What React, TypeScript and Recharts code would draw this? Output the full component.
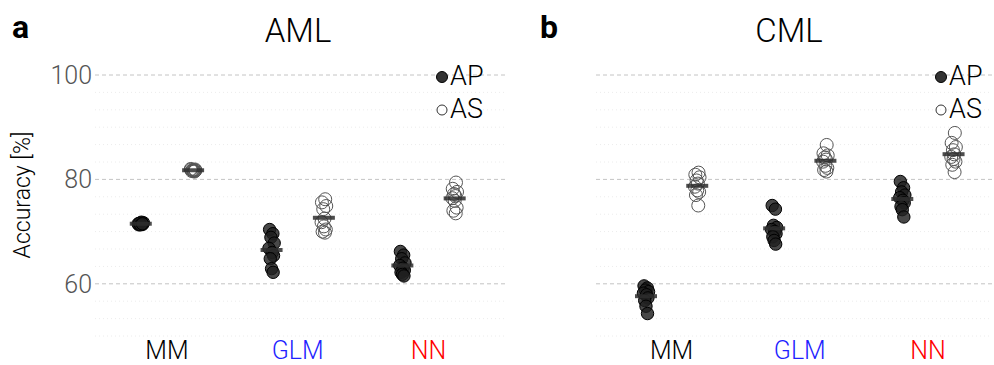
import React from 'react';
import { ScatterChart, Scatter, XAxis, YAxis, ReferenceLine } from 'recharts';

const FONT = 'Roboto, "Liberation Sans", Helvetica, Arial, sans-serif';
const FW = 300;

const categories = ['MM', 'GLM', 'NN'];
const categoryColors = ['#000000', '#1f1fff', '#ff0000'];
const yTicks = [60, 80, 100];
const minorGrid = [50, 53.33, 56.67, 63.33, 66.67, 70, 73.33, 76.67, 83.33, 86.67, 90, 93.33, 96.67];
const groups = ['AP', 'AS'];

// hand-set horizontal jitter (x-axis units)
const jitterA = [-0.015, 0.01, -0.005, 0.02, -0.02, 0.005, 0.015, -0.01, 0.0, 0.012];
const jitterB = [0.01, -0.015, 0.018, -0.005, 0.005, -0.018, 0.0, 0.015, -0.01, 0.008];

// AML panel
const amlMM_AP = [71.3, 71.6, 71.4, 71.7, 71.5, 71.8, 71.4, 71.6, 71.3, 71.5];
const amlMM_AS = [81.5, 81.9, 81.7, 81.8, 81.6, 82.0, 81.7, 81.9, 81.6, 81.8];
const amlGLM_AP = [70.4, 69.6, 68.9, 67.8, 66.8, 66.0, 65.4, 64.8, 62.9, 62.2];
const amlGLM_AS = [76.2, 75.6, 74.9, 74.3, 72.5, 71.8, 71.0, 70.4, 70.0, 69.8];
const amlNN_AP = [66.2, 65.5, 64.8, 64.0, 63.5, 63.0, 62.6, 62.2, 61.8, 61.5];
const amlNN_AS = [79.4, 78.2, 77.6, 77.2, 76.8, 76.4, 75.9, 74.6, 74.0, 73.5];

// CML panel
const cmlMM_AP = [59.6, 59.2, 58.8, 58.5, 58.2, 57.9, 57.3, 56.8, 55.7, 54.3];
const cmlMM_AS = [81.3, 80.9, 80.4, 79.8, 79.2, 78.6, 77.9, 77.6, 77.0, 75.0];
const cmlGLM_AP = [75.0, 74.3, 71.2, 70.8, 70.4, 70.0, 69.6, 69.0, 68.3, 67.6];
const cmlGLM_AS = [86.6, 85.0, 84.6, 84.2, 83.8, 83.4, 82.6, 82.2, 81.8, 81.5];
const cmlNN_AP = [79.6, 78.4, 77.6, 77.0, 76.5, 76.0, 75.5, 74.8, 74.2, 72.8];
const cmlNN_AS = [88.9, 87.0, 86.2, 85.6, 84.8, 84.3, 83.9, 83.4, 82.8, 81.4];

const OFFSET = 0.2;

const mean = (a: number[]) => a.reduce((s, v) => s + v, 0) / a.length;

function buildPoints(sets: number[][], offset: number, jitter: number[]) {
  const out: { x: number; y: number }[] = [];
  sets.forEach((vals, i) => {
    vals.forEach((v, k) => out.push({ x: i + 1 + offset + jitter[k % jitter.length], y: v }));
  });
  return out;
}
function buildMeans(sets: number[][], offset: number) {
  return sets.map((vals, i) => ({ x: i + 1 + offset, y: mean(vals) }));
}

const FilledDot = (p: any) => (
  <circle cx={p.cx} cy={p.cy} r={6.2} fill="#202020" fillOpacity={0.82} stroke="#000" strokeWidth={1} />
);
const OpenDot = (p: any) => (
  <circle cx={p.cx} cy={p.cy} r={6.5} fill="none" stroke="#555" strokeWidth={1} />
);
const MeanBar = (p: any) => (
  <line x1={p.cx - 11} x2={p.cx + 11} y1={p.cy} y2={p.cy} stroke="#2e2e2e" strokeOpacity={0.85} strokeWidth={4} />
);

const CatTick = (props: any) => {
  const { x, y, payload } = props;
  const i = Math.round(payload.value) - 1;
  return (
    <text x={x} y={y} dy={23} textAnchor="middle" fill={categoryColors[i]} fontSize={25} fontWeight={FW} fontFamily={FONT}>
      {categories[i]}
    </text>
  );
};

function Panel(props: {
  ap: number[][];
  as: number[][];
  domainX: [number, number];
  width: number;
  margin: any;
  showY: boolean;
}) {
  const { ap, as, domainX, width, margin, showY } = props;
  const apPts = buildPoints(ap, -OFFSET, jitterA);
  const asPts = buildPoints(as, OFFSET, jitterB);
  const means = [...buildMeans(ap, -OFFSET), ...buildMeans(as, OFFSET)];
  return (
    <ScatterChart width={width} height={365} margin={margin}>
      <XAxis
        type="number"
        dataKey="x"
        domain={domainX}
        ticks={[1, 2, 3]}
        tick={<CatTick />}
        tickLine={false}
        axisLine={false}
        tickSize={0}
        tickMargin={0}
        height={29}
        allowDataOverflow
        interval={0}
      />
      <YAxis
        type="number"
        dataKey="y"
        domain={[50, 100]}
        ticks={yTicks}
        hide={!showY}
        width={showY ? 95 : 0}
        tickLine={false}
        axisLine={false}
        tickSize={0}
        tickMargin={3}
        tick={{ fontSize: 25, fill: '#555', fontFamily: FONT, fontWeight: FW }}
        allowDataOverflow
      />
      {minorGrid.map((v) => (
        <ReferenceLine key={'m' + v} y={v} stroke="#ececec" strokeDasharray="1 3" />
      ))}
      {yTicks.map((v) => (
        <ReferenceLine key={'M' + v} y={v} stroke="#c4c4c4" strokeDasharray="4 3" />
      ))}
      <Scatter name="AP" data={apPts} shape={<FilledDot />} isAnimationActive={false} />
      <Scatter name="AS" data={asPts} shape={<OpenDot />} isAnimationActive={false} />
      <Scatter name="mean" data={means} shape={<MeanBar />} isAnimationActive={false} />
    </ScatterChart>
  );
}

function Legend({ x }: { x: number }) {
  return (
    <g>
      <circle cx={x} cy={77} r={5.5} fill="#333" stroke="#000" />
      <text x={x + 8} y={85} fontSize={27} fontWeight={FW} fontFamily={FONT} fill="#000">{groups[0]}</text>
      <circle cx={x} cy={110} r={5} fill="none" stroke="#333" />
      <text x={x + 8} y={118} fontSize={27} fontWeight={FW} fontFamily={FONT} fill="#000">{groups[1]}</text>
    </g>
  );
}

export default function App() {
  return (
    <div style={{ position: 'absolute', left: 0, top: 0, width: 994, height: 365, background: '#fff' }}>
      <div style={{ position: 'absolute', left: 0, top: 0 }}>
        <Panel
          ap={[amlMM_AP, amlGLM_AP, amlNN_AP]}
          as={[amlMM_AS, amlGLM_AS, amlNN_AS]}
          domainX={[0.45, 3.6]}
          width={520}
          margin={{ top: 75, right: 13, bottom: 0, left: 0 }}
          showY
        />
      </div>
      <div style={{ position: 'absolute', left: 520, top: 0 }}>
        <Panel
          ap={[cmlMM_AP, cmlGLM_AP, cmlNN_AP]}
          as={[cmlMM_AS, cmlGLM_AS, cmlNN_AS]}
          domainX={[0.41, 3.5]}
          width={474}
          margin={{ top: 75, right: 2, bottom: 0, left: 76 }}
          showY={false}
        />
      </div>
      <svg width={994} height={365} style={{ position: 'absolute', left: 0, top: 0, pointerEvents: 'none' }}>
        <text x={12} y={38} fontSize={32} fontWeight="bold" fontFamily={FONT} fill="#000">a</text>
        <text x={540} y={38} fontSize={32} fontWeight="bold" fontFamily={FONT} fill="#000">b</text>
        <text x={298} y={42} fontSize={33} fontWeight={FW} textAnchor="middle" fontFamily={FONT} fill="#000">AML</text>
        <text x={789} y={42} fontSize={33} fontWeight={FW} textAnchor="middle" fontFamily={FONT} fill="#000">CML</text>
        <text
          x={0}
          y={0}
          transform="translate(30,195) rotate(-90)"
          fontSize={23}
          fontWeight={FW}
          textAnchor="middle"
          fontFamily={FONT}
          fill="#000"
        >
          Accuracy [%]
        </text>
        <Legend x={442} />
        <Legend x={941} />
      </svg>
    </div>
  );
}
